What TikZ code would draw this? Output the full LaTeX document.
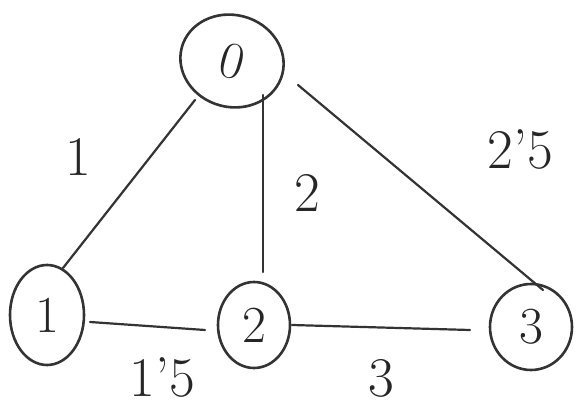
\documentclass[tikz,border=0pt]{standalone}
\usepackage{fontspec}
\usetikzlibrary{shapes.geometric}
\tikzset{
  vert/.style={draw=black!80, line width=2.6pt, ellipse, inner sep=0pt, font=\fontsize{52}{52}\selectfont, text=black!85},
  edge/.style={draw=black!80, line width=2.2pt, line cap=round},
  wlabel/.style={font=\fontsize{56}{56}\selectfont, text=black!85, inner sep=0pt}
}
\begin{document}
\begin{tikzpicture}[x=1pt,y=-1pt]
\useasboundingbox (0,0) rectangle (587,409);
\node[vert, minimum width=104pt, minimum height=92pt, rotate=-15] (n0) at (232,61) {0};
\node[vert, minimum width=74pt, minimum height=100pt] (n1) at (47,315) {1};
\node[vert, minimum width=72pt, minimum height=86pt] (n2) at (254,325) {2};
\node[vert, minimum width=82pt, minimum height=86pt] (n3) at (531,327) {3};
\coordinate (a0) at (195,100); \coordinate (a1) at (63,268);
\coordinate (b0) at (263,95);  \coordinate (b1) at (263,272);
\coordinate (c0) at (298,85);  \coordinate (c1) at (543,290);
\coordinate (d0) at (90,322);  \coordinate (d1) at (205,330);
\coordinate (e0) at (292,325); \coordinate (e1) at (470,330);
\draw[edge] (a0) -- (a1);
\draw[edge] (b0) -- (b1);
\draw[edge] (c0) -- (c1);
\draw[edge] (d0) -- (d1);
\draw[edge] (e0) -- (e1);
\node[wlabel] (l01) at (78,157) {1};
\node[wlabel] (l02) at (307,193) {2};
\node[wlabel] (l03) at (520,150) {2'5};
\node[wlabel] (l12) at (162,378) {1'5};
\node[wlabel] (l23) at (381,378) {3};
\end{tikzpicture}
\end{document}
